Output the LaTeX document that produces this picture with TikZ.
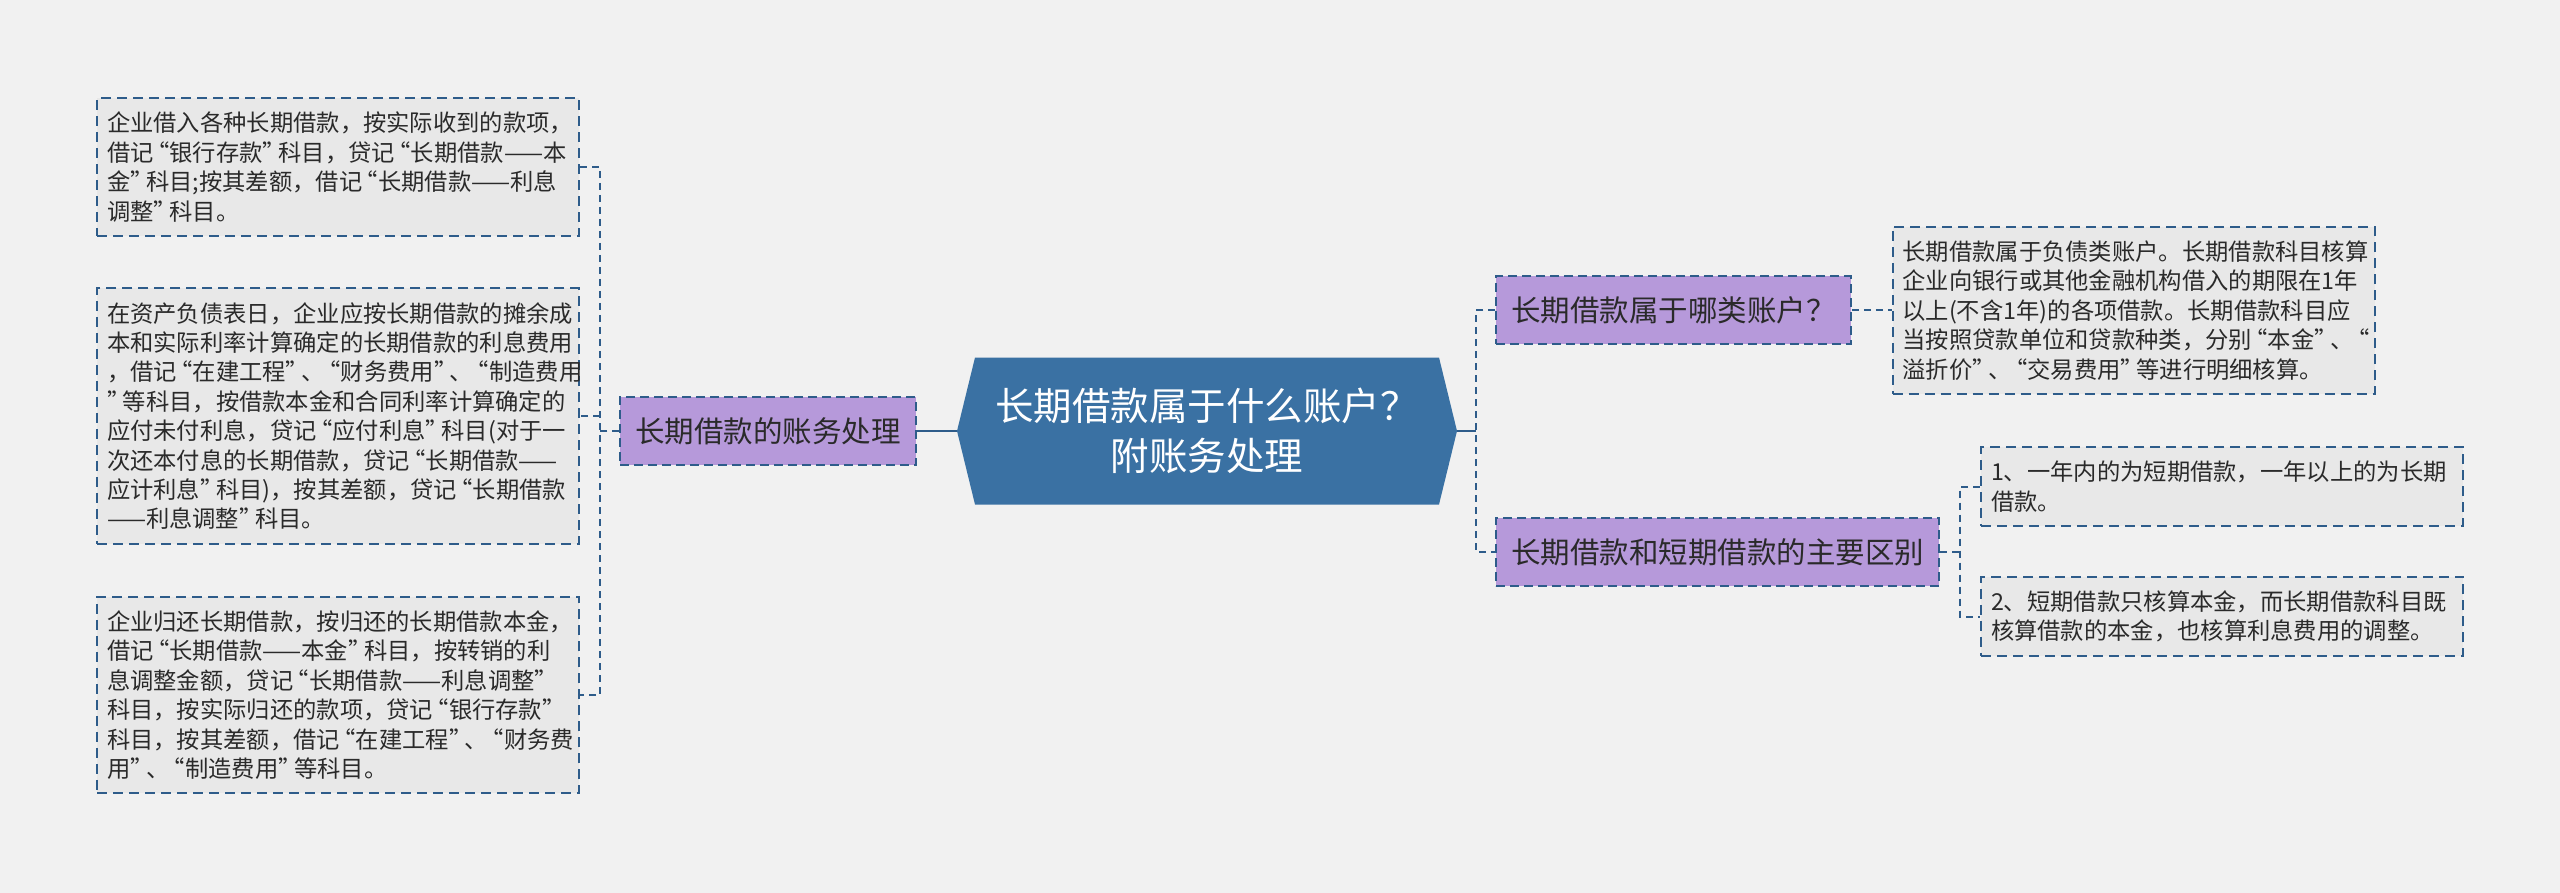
\documentclass[tikz,border=0pt]{standalone}
\usepackage{fontspec}
\setmainfont{Noto Sans CJK SC}
\XeTeXdashbreakstate=0
\hyphenpenalty=10000
\exhyphenpenalty=10000
\definecolor{pagebg}{HTML}{F1F1F1}
\definecolor{notefill}{HTML}{E8E8E8}
\definecolor{linkblue}{HTML}{2E5C8A}
\definecolor{topicfill}{HTML}{B699DA}
\definecolor{rootfill}{HTML}{3A71A3}
\definecolor{inktext}{HTML}{2A2A2A}
% narrow quotes, as the notes print them
\newcommand\oq{\makebox[0.68em][r]{“}}
\newcommand\cq{\makebox[0.68em][l]{”}}
\begin{document}
\begin{tikzpicture}[x=1pt,y=-1pt,
  note/.style={draw=linkblue, line width=2pt, dash pattern=on 10pt off 6pt,
    fill=notefill, text width=462pt, inner xsep=10pt, inner ysep=14pt,
    align=left, text=inktext, font=\fontsize{23.3}{29.4}\selectfont},
  topic/.style={draw=linkblue, line width=2pt, dash pattern=on 9pt off 5pt,
    fill=topicfill, inner xsep=15pt, minimum height=68pt, text=inktext,
    font=\fontsize{29.5}{36}\selectfont},
  link/.style={linkblue, line width=2pt, dash pattern=on 7pt off 5pt},
  rootlink/.style={linkblue, line width=2.5pt}]
  \def\rx{1207}   % centre of the main topic
  \def\ry{431}
  \def\rw{232}    % half width of the flat top
  \def\rh{73.5}   % half height
  \def\rt{18}     % depth of the side points

  % page
  \fill[pagebg] (0,0) rectangle (2560,893);
  \useasboundingbox (0,0) rectangle (2560,893);

  % main topic, a flat hexagon
  \fill[rootfill] ({\rx-\rw-\rt},\ry) -- ({\rx-\rw},{\ry-\rh}) -- ({\rx+\rw},{\ry-\rh})
    -- ({\rx+\rw+\rt},\ry) -- ({\rx+\rw},{\ry+\rh}) -- ({\rx-\rw},{\ry+\rh}) -- cycle;
  \node[minimum width={2*(\rw+\rt)}, minimum height={2*\rh}, inner sep=0pt,
    align=center, text=white, font=\fontsize{38.5}{50.6}\selectfont]
    (root) at (\rx,\ry) {长期借款属于什么账户？\\附账务处理};

  % left branch
  \node[topic] (acct) at (768,431) {长期借款的账务处理};
  \node[note] (b1) at (338,167) {企业借入各种长期借款，按实际收到的款项，\\借记\oq 银行存款\cq 科目，贷记\oq 长期借款——本\\金\cq 科目;按其差额，借记\oq 长期借款——利息\\调整\cq 科目。};
  \node[note] (b2) at (338,416) {在资产负债表日，企业应按长期借款的摊余成\\本和实际利率计算确定的长期借款的利息费用\\，借记\oq 在建工程\cq 、\oq 财务费用\cq 、\oq 制造费用\\{\cq}等科目，按借款本金和合同利率计算确定的\\应付未付利息，贷记\oq 应付利息\cq 科目(对于一\\次还本付息的长期借款，贷记\oq 长期借款——\\应计利息\cq 科目)，按其差额，贷记\oq 长期借款\\——利息调整\cq 科目。};
  \node[note] (b3) at (338,695) {企业归还长期借款，按归还的长期借款本金，\\借记\oq 长期借款——本金\cq 科目，按转销的利\\息调整金额，贷记\oq 长期借款——利息调整\cq{}\\科目，按实际归还的款项，贷记\oq 银行存款\cq{}\\科目，按其差额，借记\oq 在建工程\cq 、\oq 财务费\\用\cq 、\oq 制造费用\cq 等科目。};

  % right branch
  \node[topic] (q1) at (1673.5,310.5) {长期借款属于哪类账户？};
  \node[topic] (q2) at (1717.5,552) {长期借款和短期借款的主要区别};
  \node[note] (r1) at (2133.5,310.5) {长期借款属于负债类账户。长期借款科目核算\\企业向银行或其他金融机构借入的期限在1年\\以上(不含1年)的各项借款。长期借款科目应\\当按照贷款单位和贷款种类，分别\oq 本金\cq 、\oq{}\\溢折价\cq 、\oq 交易费用\cq 等进行明细核算。};
  \node[note] (rA) at (2222,486.5) {1、一年内的为短期借款，一年以上的为长期\\借款。};
  \node[note] (rB) at (2222,616.5) {2、短期借款只核算本金，而长期借款科目既\\核算借款的本金，也核算利息费用的调整。};

  % connectors
  \coordinate (lj) at (600,431);
  \coordinate (rj) at (1476,431);
  \coordinate (qj) at (1960,552);
  \draw[rootlink] (root.west) -- (acct.east);
  \draw[link] (acct.west) -- (lj);
  \draw[link] (b1.east) -| (lj) |- (b3.east);
  \draw[link] (lj |- b2.east) -- (b2.east);
  \draw[rootlink] (root.east) -- (rj);
  \draw[link] (q1.west) -| (rj) |- (q2.west);
  \draw[link] (q1.east) -- (r1.west);
  \draw[link] (q2.east) -- (qj);
  \draw[link] (rA.west) -| (qj) |- (rB.west);
\end{tikzpicture}
\end{document}
